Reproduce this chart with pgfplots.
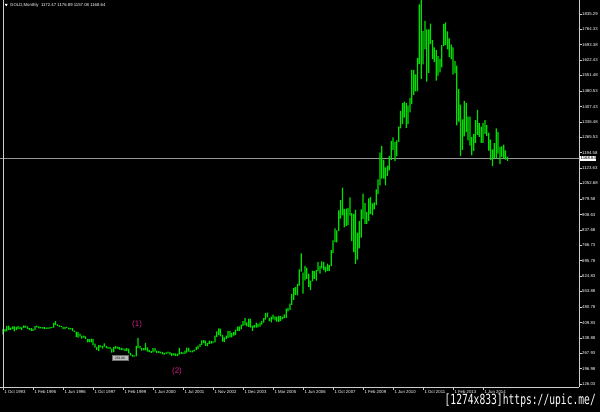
\documentclass[border=0pt]{standalone}
\usepackage{pgfplots}
\pgfplotsset{compat=1.18}
\usepackage{pgfplotstable}
\usepackage{fontspec}
\setmainfont{Liberation Sans}
\newfontfamily\wmfont{DejaVu Sans Mono}
\definecolor{barg}{RGB}{0,225,0}
\definecolor{pinkann}{RGB}{215,30,140}
\definecolor{axgray}{RGB}{205,205,205}
\definecolor{pricegray}{RGB}{150,150,150}
\pgfplotstableread{
i h l c
0 379 355 369.6
1 380 368 370.9
2 393 369 391.8
3 396 375 377.9
4 387 375 381.4
5 392 380 389.2
6 392 369 376.5
7 390 375 387.6
8 394 381 386.0
9 390 380 384.0
10 388 376 385.8
11 397 385 394.9
12 396 386 389.1
13 392 381 383.1
14 384 375 383.3
15 384 372 374.9
16 381 372 376.4
17 393 376 392.0
18 396 388 389.8
19 392 383 385.3
20 390 383 387.1
21 389 382 383.4
22 389 380 382.4
23 387 381 383.4
24 388 381 382.7
25 390 382 387.8
26 389 385 387.0
27 408 387 405.6
28 416 399 400.7
29 402 394 396.4
30 397 389 391.3
31 395 389 390.6
32 391 380 382.0
33 390 380 385.3
34 390 384 386.5
35 387 378 379.0
36 384 378 379.5
37 384 370 371.3
38 373 367 369.3
39 368 343 345.5
40 366 340 358.6
41 359 346 348.2
42 349 336 340.2
43 350 340 345.6
44 346 334 334.6
45 335 318 326.4
46 333 320 325.4
47 336 318 332.1
48 335 306 311.4
49 313 294 296.8
50 298 284 290.2
51 306 278 304.9
52 305 295 297.4
53 302 289 301.0
54 314 299 310.7
55 302 292 293.6
56 298 289 296.3
57 298 287 288.9
58 290 271 273.4
59 298 273 293.9
60 302 289 292.3
61 299 290 294.7
62 296 285 288.0
63 293 284 287.1
64 291 283 287.3
65 290 278 279.5
66 292 278 286.6
67 290 267 268.6
68 270 257 261.0
69 262 253 255.6
70 258 252 254.8
71 302 254 299.0
72 339 293 299.1
73 302 289 291.4
74 292 280 290.3
75 292 281 283.3
76 316 281 293.7
77 295 276 276.8
78 284 273 275.1
79 278 270 272.3
80 292 272 288.2
81 292 275 276.8
82 280 269 277.0
83 278 270 273.7
84 275 268 271.0
85 274 263 264.5
86 270 262 269.1
87 272 265 268.0
88 275 267 272.7
89 273 262 264.5
90 269 255 266.7
91 268 258 262.0
92 268 256 257.7
93 266 255 263.2
94 293 262 267.5
95 274 265 270.6
96 272 264 265.9
97 280 265 273.0
98 294 271 293.1
99 293 276 278.8
100 280 272 275.5
101 281 272 279.0
102 285 277 282.3
103 298 282 296.9
104 303 287 301.4
105 310 298 308.2
106 327 307 326.6
107 329 315 318.5
108 326 302 304.7
109 315 300 312.8
110 326 311 323.7
111 324 313 316.9
112 323 315 319.1
113 349 318 347.2
114 369 343 367.5
115 383 352 358.0
116 382 346 347.5
117 353 322 334.9
118 341 320 336.8
119 350 335 347.0
120 372 339 361.4
121 372 341 346.0
122 362 341 354.8
123 366 350 362.0
124 377 352 375.6
125 391 372 388.0
126 392 370 383.4
127 400 378 398.4
128 417 395 416.3
129 430 398 399.8
130 411 392 395.9
131 428 390 426.0
132 427 386 387.5
133 396 372 394.3
134 398 386 395.8
135 409 387 391.4
136 404 388 400.0
137 410 391 408.3
138 418 400 415.7
139 430 410 429.4
140 455 423 452.4
141 456 434 438.0
142 431 416 422.2
143 437 411 435.5
144 446 424 427.6
145 438 420 435.7
146 437 414 414.5
147 441 413 437.1
148 439 418 429.0
149 436 424 432.0
150 448 430 433.3
151 474 432 473.3
152 478 462 470.8
153 497 467 495.7
154 541 491 513.0
155 570 515 568.8
156 573 538 556.0
157 587 535 582.0
158 655 580 654.5
159 730 645 643.5
160 640 543 613.5
161 672 605 632.5
162 664 612 623.5
163 636 573 599.3
164 604 560 603.8
165 650 600 646.7
166 648 612 632.0
167 652 604 650.5
168 690 648 664.2
169 670 636 661.8
170 692 660 677.0
171 690 652 659.1
172 668 642 650.5
173 682 648 665.5
174 675 648 672.0
175 745 671 742.8
176 790 731 789.5
177 845 781 783.5
178 836 780 833.8
179 928 833 923.3
180 975 890 971.5
181 1033 905 916.2
182 935 850 865.0
183 936 855 885.8
184 940 860 928.3
185 988 904 912.3
186 915 786 833.0
187 912 735 880.8
188 930 681 717.8
189 825 700 814.5
190 880 752 869.8
191 933 802 919.5
192 1006 889 939.0
193 962 866 916.5
194 920 866 883.3
195 983 880 978.8
196 990 911 927.4
197 960 905 954.0
198 965 933 953.7
199 1025 952 1007.7
200 1071 1003 1039.8
201 1195 1044 1182.0
202 1226 1075 1096.5
203 1162 1075 1081.0
204 1127 1044 1118.4
205 1135 1087 1113.3
206 1180 1113 1179.3
207 1249 1160 1213.0
208 1265 1208 1243.8
209 1245 1155 1181.0
210 1251 1177 1248.3
211 1315 1244 1308.3
212 1388 1307 1357.0
213 1424 1327 1386.3
214 1431 1357 1421.4
215 1424 1309 1332.8
216 1412 1326 1411.0
217 1448 1381 1432.5
218 1577 1419 1556.0
219 1577 1462 1536.5
220 1556 1478 1500.2
221 1632 1478 1628.5
222 1880 1604 1826.0
223 1921 1535 1620.4
224 1756 1603 1722.0
225 1804 1672 1746.4
226 1764 1523 1566.8
227 1764 1563 1738.0
228 1791 1696 1709.9
229 1715 1627 1668.0
230 1681 1613 1664.0
231 1670 1527 1561.1
232 1641 1550 1598.5
233 1628 1565 1614.5
234 1692 1589 1692.5
235 1790 1688 1773.5
236 1796 1693 1719.1
237 1755 1672 1714.5
238 1723 1636 1675.8
239 1694 1626 1663.6
240 1681 1555 1578.9
241 1617 1562 1596.2
242 1597 1321 1472.0
243 1488 1338 1392.6
244 1417 1180 1234.6
245 1348 1208 1312.4
246 1434 1270 1395.9
247 1424 1290 1326.9
248 1361 1251 1323.0
249 1361 1227 1250.5
250 1268 1182 1201.6
251 1280 1202 1244.3
252 1345 1240 1326.5
253 1392 1277 1284.0
254 1331 1268 1295.9
255 1315 1240 1250.5
256 1332 1240 1327.3
257 1345 1281 1282.5
258 1322 1271 1286.3
259 1287 1204 1208.2
260 1255 1160 1171.4
261 1210 1132 1182.8
262 1239 1170 1199.3
263 1307 1167 1278.9
264 1290 1190 1212.8
265 1220 1142 1183.1
266 1224 1175 1182.9
267 1232 1170 1189.4
268 1205 1162 1171.9
269 1176.89 1157.08 1168.64
}\gold
\begin{document}
\begin{tikzpicture}
\fill[black] (0pt,0pt) rectangle (600pt,412pt);
\begin{axis}[
  at={(0pt,25pt)}, anchor=south west,
  scale only axis, width=579pt, height=387pt,
  xmin=-1.6, xmax=307.2, ymin=112.17, ymax=1899.9,
  axis x line*=bottom, axis y line*=right,
  axis line style={axgray, line width=0.7pt, -},
  tick align=outside, major tick length=3pt,
  tick style={axgray, line width=0.5pt},
  xtick={0,16,...,256},
  xticklabels={1 Oct 1993,1 Feb 1995,1 Jun 1996,1 Oct 1997,1 Feb 1999,1 Jun 2000,1 Jul 2001,1 Nov 2002,1 Dec 2003,1 Mar 2005,1 Jun 2006,1 Oct 2007,1 Feb 2009,1 Jun 2010,1 Oct 2011,1 Feb 2013,1 Jun 2014},
  xticklabel style={font=\fontsize{4.3}{5}\selectfont, text=white, anchor=north west, inner sep=0pt, xshift=1.3pt},
  ytick={126.03,196.98,267.93,338.88,409.83,480.78,553.88,624.83,695.78,766.73,837.68,908.63,979.58,1052.68,1123.63,1194.58,1265.53,1336.48,1407.43,1480.53,1551.48,1622.43,1693.38,1764.33,1835.29},
  yticklabels={126.03,196.98,267.93,338.88,409.83,480.78,553.88,624.83,695.78,766.73,837.68,908.63,979.58,1052.68,1123.63,1194.58,1265.53,1336.48,1407.43,1480.53,1551.48,1622.43,1693.38,1764.33,1835.29},
  yticklabel pos=right,
  yticklabel style={font=\fontsize{4.3}{5}\selectfont, text=white, anchor=west, inner sep=0pt},
]
% current price line
\addplot[draw=pricegray, line width=0.6pt, forget plot] coordinates {(-1.6,1168.64) (307.2,1168.64)};
% invisible base up to the low
\addplot[ybar, stack plots=y, bar width=1.25pt, bar shift=0pt, draw=none, fill=none, forget plot]
  table[x=i, y=l] {\gold};
% visible bar from low to high
\addplot[ybar, stack plots=y, bar width=1.25pt, bar shift=0pt, draw=none, fill=barg, forget plot]
  table[x=i, y expr=\thisrow{h}-\thisrow{l}] {\gold};
\draw[axgray, line width=0.5pt] (axis cs:0,112.17) -- (axis cs:0,1899.9);
\node[text=pinkann, font=\fontsize{8}{9}\selectfont] at (axis cs:71.5,403) {(1)};
\node[text=pinkann, font=\fontsize{8}{9}\selectfont] at (axis cs:92.8,186) {(2)};
\node[fill={rgb,255:red,190;green,190;blue,190}, draw={rgb,255:red,110;green,110;blue,110}, line width=0.3pt, inner sep=0.4pt, minimum width=16pt, minimum height=5pt, font=\fontsize{3.2}{3.5}\selectfont, text=black] at (axis cs:62.4,246) {252.80};
\coordinate (pl) at (axis cs:307.2,1168.64);
\end{axis}
\node[fill=white, text=black, inner sep=0.5pt, anchor=west, font=\fontsize{4.3}{5}\selectfont, minimum height=5.5pt] at ([xshift=1pt]pl) {1168.64};
\fill[white] (4.6pt,408.2pt) -- (7.8pt,408.2pt) -- (6.2pt,405.6pt) -- cycle;
\node[text=white, anchor=west, inner sep=0pt, font=\fontsize{4.3}{5}\selectfont] at (10pt,406.6pt) {GOLD,Monthly\ \ 1172.47 1176.89 1157.08 1168.64};
\node[text=white, anchor=east, inner sep=0pt, xscale=0.69] at (596pt,11.5pt) {\wmfont\fontsize{14}{16}\selectfont [1274x833]https://upic.me/};
\pgfresetboundingbox
\useasboundingbox (0pt,0pt) rectangle (600pt,412pt);
\end{tikzpicture}
\end{document}
